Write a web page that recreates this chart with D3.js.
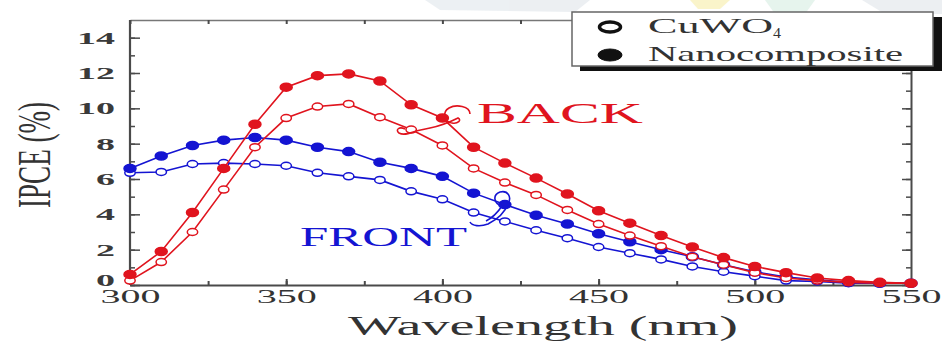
<!DOCTYPE html>
<html>
<head>
<meta charset="utf-8">
<script src="https://cdn.jsdelivr.net/npm/d3@7"></script>
<style>
  html, body { margin: 0; padding: 0; background: #fff; }
  svg { display: block; }
</style>
</head>
<body>
<div id="chart"></div>
<script>
// IPCE vs wavelength, front / back illumination
const wavelength = [300, 310, 320, 330, 340, 350, 360, 370, 380, 390, 400, 410, 420,
  430, 440, 450, 460, 470, 480, 490, 500, 510, 520, 530, 540, 550];

const backNano = [0.6, 1.9, 4.1, 6.6, 9.1, 11.2, 11.85, 11.95, 11.55, 10.2, 9.45, 7.8, 6.9,
  6.05, 5.15, 4.2, 3.5, 2.8, 2.15, 1.55, 1.05, 0.7, 0.4, 0.25, 0.15, 0.1];
const backCuwo = [0.25, 1.3, 3.0, 5.4, 7.8, 9.45, 10.1, 10.25, 9.5, 8.8, 7.9, 6.6, 5.8,
  5.1, 4.25, 3.45, 2.8, 2.2, 1.6, 1.15, 0.7, 0.4, 0.25, 0.15, 0.1, 0.1];
const frontNano = [6.6, 7.3, 7.9, 8.2, 8.35, 8.2, 7.8, 7.55, 6.95, 6.6, 6.15, 5.2, 4.55,
  3.95, 3.45, 2.9, 2.45, 2.0, 1.6, 1.15, 0.75, 0.45, 0.3, 0.15, 0.1, 0.1];
const frontCuwo = [6.35, 6.4, 6.85, 6.9, 6.85, 6.75, 6.35, 6.15, 5.95, 5.3, 4.85, 4.1, 3.6,
  3.1, 2.65, 2.15, 1.8, 1.45, 1.05, 0.75, 0.5, 0.25, 0.2, 0.1, 0.1, 0.1];

const xTicks = [300, 350, 400, 450, 500, 550];
const yTicks = [0, 2, 4, 6, 8, 10, 12, 14];

const RED = '#e0141e';
const BLUE = '#1414d2';
const AXIS = '#4a4a4a';
const FONT = '"Liberation Serif", "Times New Roman", serif';

const width = 942, height = 342;
const x = d3.scaleLinear().domain([300, 550]).range([130, 911]);
const y = d3.scaleLinear().domain([0, 15]).range([285, 20]);

const svg = d3.select('#chart').append('svg')
  .attr('width', width)
  .attr('height', height);

// faint watermark blobs at top of the scan
const wm = svg.append('g').attr('opacity', 0.35);
wm.append('path').attr('d', 'M425,0 L590,0 L575,12 L440,10 Z').attr('fill', '#c9d3dc');
wm.append('path').attr('d', 'M690,0 L730,0 L720,9 L698,9 Z').attr('fill', '#f3e26a');
wm.append('path').attr('d', 'M765,0 L815,0 L805,14 L775,14 Z').attr('fill', '#b9e0cc');
wm.append('path').attr('d', 'M862,0 L942,0 L942,14 L885,14 Z').attr('fill', '#c9d3dc');

// axes -- all ticks point inward
const xMinor = d3.range(300, 551, 25);
const yMinor = d3.range(0, 15, 1);

svg.append('g')
  .attr('transform', `translate(0,${y(0)})`)
  .call(d3.axisBottom(x).tickValues(xMinor).tickSize(-4).tickSizeOuter(0).tickFormat(''))
  .call(g => g.selectAll('line').attr('stroke', AXIS).attr('stroke-width', 2));

const xAxis = svg.append('g')
  .attr('transform', `translate(0,${y(0)})`)
  .call(d3.axisBottom(x).tickValues(xTicks).tickSize(-6).tickSizeOuter(0).tickPadding(5));
xAxis.select('.domain').attr('stroke', AXIS).attr('stroke-width', 2);
xAxis.selectAll('line').attr('stroke', AXIS).attr('stroke-width', 2);
xAxis.selectAll('text')
  .attr('font-family', FONT).attr('font-size', 19).attr('fill', '#333')
  .attr('textLength', 60).attr('lengthAdjust', 'spacingAndGlyphs');

svg.append('g')
  .attr('transform', `translate(0,${y(15)})`)
  .call(d3.axisTop(x).tickValues(xMinor).tickSize(-4).tickSizeOuter(0).tickFormat(''))
  .call(g => g.select('.domain').attr('stroke', '#777').attr('stroke-width', 1.5))
  .call(g => g.selectAll('line').attr('stroke', AXIS).attr('stroke-width', 2));

svg.append('g')
  .attr('transform', `translate(${x(300)},0)`)
  .call(d3.axisLeft(y).tickValues(yMinor).tickSize(-5).tickSizeOuter(0).tickFormat(''))
  .call(g => g.select('.domain').remove())
  .call(g => g.selectAll('line').attr('stroke', AXIS).attr('stroke-width', 1.5));

const yAxis = svg.append('g')
  .attr('transform', `translate(${x(300)},0)`)
  .call(d3.axisLeft(y).tickValues(yTicks).tickSize(-10).tickSizeOuter(0).tickPadding(15));
yAxis.select('.domain').attr('stroke', AXIS).attr('stroke-width', 2.2)
  .attr('d', `M0,${y(0)}V${y(15)}`);
yAxis.selectAll('line').attr('stroke', AXIS).attr('stroke-width', 1.5);
yAxis.selectAll('text')
  .attr('font-family', FONT).attr('font-size', 17).attr('font-weight', 'bold').attr('fill', '#3a3a3a')
  .attr('dy', d => d === 0 ? '0.05em' : '0.32em')
  .attr('textLength', d => String(d).length * 19).attr('lengthAdjust', 'spacingAndGlyphs');

svg.append('g')
  .attr('transform', `translate(${x(550)},0)`)
  .call(d3.axisRight(y).tickValues(yMinor).tickSize(-5).tickSizeOuter(0).tickFormat(''))
  .call(g => g.select('.domain').attr('stroke', AXIS).attr('stroke-width', 2))
  .call(g => g.selectAll('line').attr('stroke', AXIS).attr('stroke-width', 1.5));
svg.append('g')
  .attr('transform', `translate(${x(550)},0)`)
  .call(d3.axisRight(y).tickValues(yTicks).tickSize(-9).tickSizeOuter(0).tickFormat(''))
  .call(g => g.select('.domain').remove())
  .call(g => g.selectAll('line').attr('stroke', AXIS).attr('stroke-width', 1.5));

// axis titles
svg.append('text')
  .attr('x', 543).attr('y', 335)
  .attr('text-anchor', 'middle')
  .attr('font-family', FONT).attr('font-size', 27).attr('fill', '#333')
  .attr('textLength', 390).attr('lengthAdjust', 'spacingAndGlyphs')
  .text('Wavelength (nm)');

svg.append('text')
  .attr('transform', 'translate(50,155) scale(1.9,1) rotate(-90)')
  .attr('text-anchor', 'middle')
  .attr('font-family', FONT).attr('font-size', 25).attr('fill', '#333')
  .attr('textLength', 106).attr('lengthAdjust', 'spacingAndGlyphs')
  .text('IPCE (%)');

// series
const series = [
  { values: frontCuwo, color: BLUE, filled: false },
  { values: frontNano, color: BLUE, filled: true },
  { values: backCuwo, color: RED, filled: false },
  { values: backNano, color: RED, filled: true }
];

const line = d3.line().x(d => x(d[0])).y(d => y(d[1]));

series.forEach(s => {
  const pts = wavelength.map((w, i) => [w, s.values[i]]);
  const g = svg.append('g');
  g.append('path')
    .attr('d', line(pts))
    .attr('fill', 'none')
    .attr('stroke', s.color)
    .attr('stroke-width', 1.6);
  g.selectAll('ellipse')
    .data(pts)
    .join('ellipse')
    .attr('cx', d => x(d[0]))
    .attr('cy', d => y(d[1]))
    .attr('rx', s.filled ? 6 : 5.2)
    .attr('ry', s.filled ? 4 : 3.5)
    .attr('fill', s.filled ? s.color : '#fff')
    .attr('stroke', s.color)
    .attr('stroke-width', 1.5);
});

// annotations with hand-drawn curls
svg.append('text')
  .attr('x', 477).attr('y', 123)
  .attr('font-family', FONT).attr('font-size', 30).attr('fill', RED)
  .attr('textLength', 166).attr('lengthAdjust', 'spacingAndGlyphs')
  .text('BACK');
svg.append('path')
  .attr('d', 'M470,114 C470,106 456,104 449,108 C442,112 444,122 452,123 C458,124 462,120 458,118 C450,122 440,126 430,128 L416,131 C410,133 404,136 399,133 C395,130 399,126 405,129')
  .attr('fill', 'none').attr('stroke', RED).attr('stroke-width', 1.6);

svg.append('text')
  .attr('x', 300).attr('y', 246)
  .attr('font-family', FONT).attr('font-size', 27).attr('fill', BLUE)
  .attr('textLength', 167).attr('lengthAdjust', 'spacingAndGlyphs')
  .text('FRONT');
svg.append('path')
  .attr('d', 'M486,221 C492,218 498,212 502,206 C494,204 492,195 500,192 C508,190 512,197 508,204 C505,212 498,219 488,224 C480,227 472,226 470,222')
  .attr('fill', 'none').attr('stroke', BLUE).attr('stroke-width', 1.6);

// legend
const lg = svg.append('g');
lg.append('rect').attr('x', 580).attr('y', 17).attr('width', 362).attr('height', 54).attr('fill', '#111');
lg.append('rect').attr('x', 572).attr('y', 12).attr('width', 361).attr('height', 54)
  .attr('fill', '#fff').attr('stroke', '#666').attr('stroke-width', 1.5);

const legendItems = [
  { label: 'CuWO', sub: '4', filled: false, y: 27 },
  { label: 'Nanocomposite', sub: null, filled: true, y: 55 }
];
legendItems.forEach(it => {
  lg.append('ellipse')
    .attr('cx', 610).attr('cy', it.y)
    .attr('rx', it.filled ? 12 : 10.5).attr('ry', it.filled ? 6 : 5)
    .attr('fill', it.filled ? '#111' : '#fff')
    .attr('stroke', '#111').attr('stroke-width', it.filled ? 1 : 3.5);
  const t = lg.append('text')
    .attr('x', 648).attr('y', it.y + 6)
    .attr('font-family', FONT).attr('font-size', 21).attr('fill', '#333');
  if (it.sub) {
    t.append('tspan').attr('textLength', 125).attr('lengthAdjust', 'spacingAndGlyphs').text(it.label);
    t.append('tspan').attr('dy', 5).attr('font-size', 14).attr('textLength', 8)
      .attr('lengthAdjust', 'spacingAndGlyphs').text(it.sub);
  } else {
    t.attr('textLength', 255).attr('lengthAdjust', 'spacingAndGlyphs').text(it.label);
  }
});
</script>
</body>
</html>
